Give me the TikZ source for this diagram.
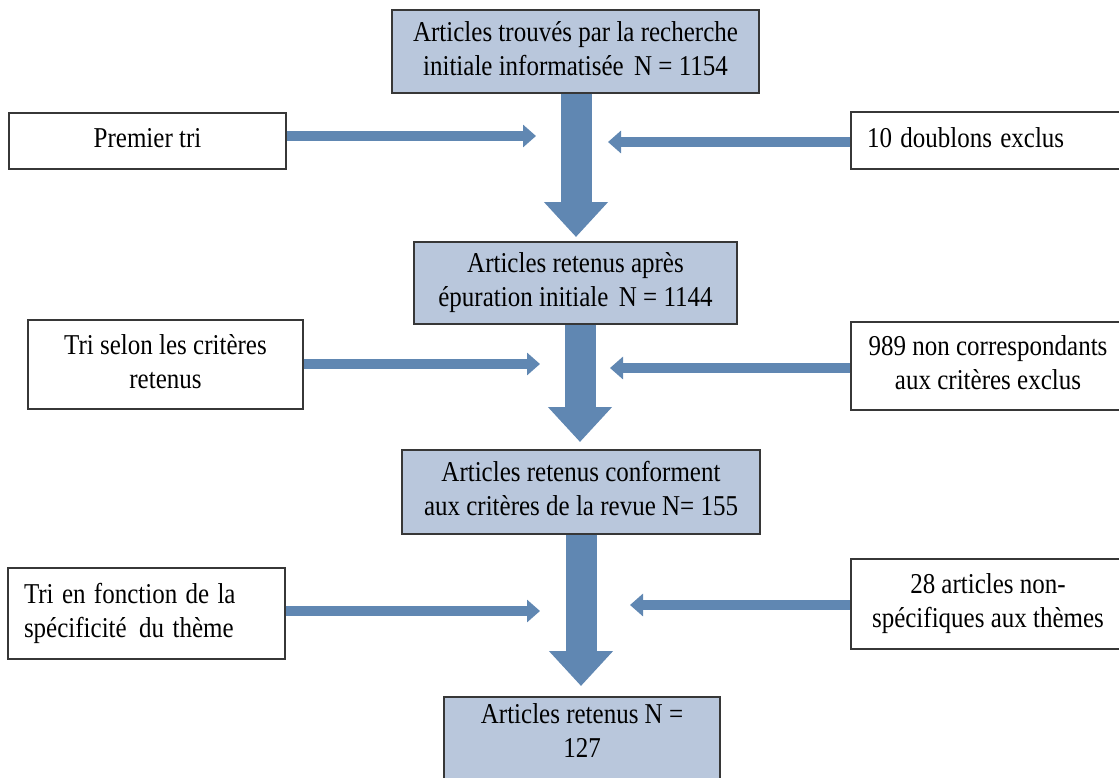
\documentclass[tikz,border=0pt]{standalone}
\usepackage{fontspec}
\usepackage{graphicx}
\setmainfont{Liberation Serif}
\usetikzlibrary{arrows.meta}
\definecolor{boxblue}{RGB}{185,199,220}
\definecolor{arrblue}{RGB}{96,135,178}
\definecolor{edge}{RGB}{55,55,55}
\newcommand\tx[2][c]{\scalebox{1}[1.15]{\begin{tabular}{@{}#1@{}}#2\end{tabular}}}
\tikzset{
  base/.style={draw=edge, line width=1.3pt, inner sep=0pt, font=\fontsize{25}{29.6}\selectfont},
  bluebox/.style={base, fill=boxblue, align=center},
  sidebox/.style={base, fill=white, align=center},
  sideleft/.style={base, fill=white, align=left, text width=#1},
  downarr/.style={arrblue, line width=31pt, -{Triangle[length=35pt,width=62pt]}},
  sidearr/.style={arrblue, line width=10pt, -{Triangle[length=13pt,width=22pt]}},
}
\begin{document}
\begin{tikzpicture}[x=1pt,y=-1pt]
\useasboundingbox (0,0) rectangle (1119,777);
% central boxes
\node[bluebox, minimum width=367pt, minimum height=83pt] (b1) at (575.5,51.5) {\tx{Articles trouvés par la recherche\\initiale informatisée\, N = 1154}};
\node[bluebox, minimum width=323pt, minimum height=82pt] (b2) at (575.5,283) {\tx{Articles retenus après\\épuration initiale\, N = 1144}};
\node[bluebox, minimum width=358pt, minimum height=84pt] (b3) at (581,492) {\tx{Articles retenus conforment\\aux critères de la revue N= 155}};
\node[bluebox, minimum width=276pt, minimum height=95pt] (b4) at (582,744.5) {};
\node[base, draw=none, align=center, anchor=north] (b4t) at ([yshift=-3pt]b4.north) {\tx{Articles retenus N =\\127}};
% side boxes
\node[sidebox, minimum width=277pt, minimum height=56pt] (l1) at (147.5,141) {\tx{Premier tri}};
\node[sideleft=242pt, minimum width=274pt, minimum height=57pt] (r1) at (988,140.5) {\tx[l]{10 doublons exclus}};
\node[sidebox, minimum width=275pt, minimum height=89pt] (l2) at (165.5,364.5) {\tx{Tri selon les critères\\retenus}};
\node[sidebox, minimum width=274pt, minimum height=88pt] (r2) at (988,366) {\tx{989 non correspondants\\aux critères exclus}};
\node[sideleft=245pt, minimum width=277pt, minimum height=91pt] (l3) at (146.5,613.5) {\tx[l]{Tri en fonction de la\\spécificité\, du thème}};
\node[sidebox, minimum width=274pt, minimum height=90pt] (r3) at (988,604) {\tx{28 articles non-\\spécifiques aux thèmes}};
% arrow end points
\coordinate (e1) at (576,237);
\coordinate (e2) at (580,442);
\coordinate (e3) at (581,686);
\coordinate (tl1) at (536,136);
\coordinate (tr1) at (608,142);
\coordinate (tl2) at (540,364);
\coordinate (tr2) at (610,368);
\coordinate (tl3) at (540,611);
\coordinate (tr3) at (630,605);
% vertical arrows
\draw[downarr] (b1.south -| e1) -- (e1);
\draw[downarr] (b2.south -| e2) -- (e2);
\draw[downarr] (b3.south -| e3) -- (e3);
% side arrows
\draw[sidearr] (l1.east |- tl1) -- (tl1);
\draw[sidearr] (r1.west |- tr1) -- (tr1);
\draw[sidearr] (l2.east |- tl2) -- (tl2);
\draw[sidearr] (r2.west |- tr2) -- (tr2);
\draw[sidearr] (l3.east |- tl3) -- (tl3);
\draw[sidearr] (r3.west |- tr3) -- (tr3);
\end{tikzpicture}
\end{document}
